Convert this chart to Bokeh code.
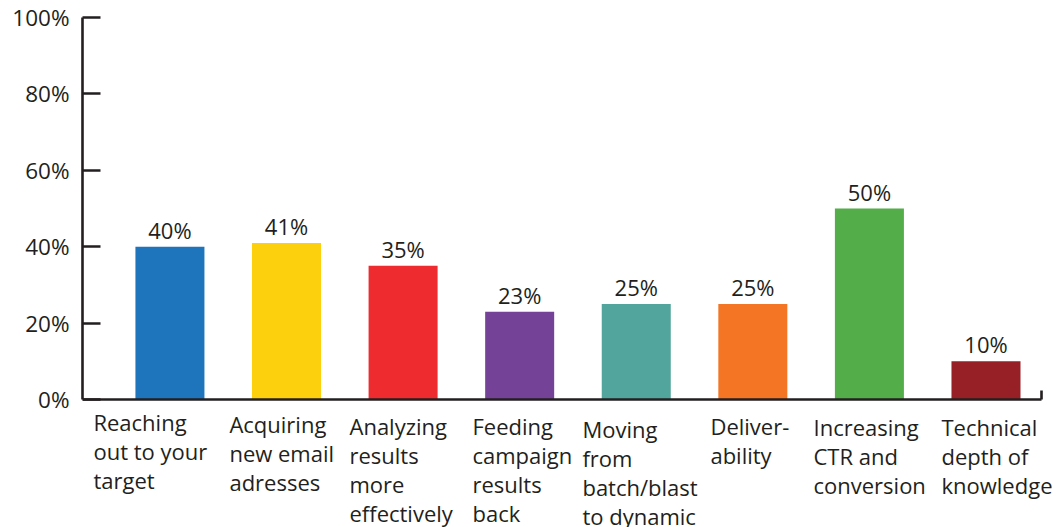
from bokeh.plotting import figure
from bokeh.models import ColumnDataSource, LabelSet, Range1d, FixedTicker, PrintfTickFormatter, LinearAxis
from bokeh.core.properties import value
from bokeh.embed import file_html
from bokeh.resources import INLINE

# ---- data ----
categories = [
    "Reaching\nout to your\ntarget",
    "Acquiring\nnew email\nadresses",
    "Analyzing\nresults\nmore\neffectively",
    "Feeding\ncampaign\nresults\nback",
    "Moving\nfrom\nbatch/blast\nto dynamic",
    "Deliver-\nability",
    "Increasing\nCTR and\nconversion",
    "Technical\ndepth of\nknowledge",
]
values = [40, 41, 35, 23, 25, 25, 50, 10]
colors = ["#1f75bc", "#fcd00d", "#ee2b2e", "#744398", "#52a59d", "#f47625", "#53ad48", "#962025"]
y_ticks = [0, 20, 40, 60, 80, 100]

# ---- layout / style (pixel offsets of the category captions from bar centre / baseline) ----
label_dx = [-76.5, -57.1, -53.6, -47.2, -53.8, -42.4, -55.9, -44.5]
label_dy = [-7, -9, -11, -11, -14, -11, -12, -12]
FONT = value("Open Sans")
INK = "#231f20"
n = len(values)
x = list(range(n))
x_start, x_axis_end, x_end = -0.75, n - 1 + 0.476, n - 1 + 0.622
y_start = -33.5  # room below the baseline for the category labels

src = ColumnDataSource(dict(
    x=x, top=values, color=colors,
    vlabel=[f"{v}%" for v in values],
    cat=categories, dx=label_dx, dy=label_dy, zero=[0] * n,
))

p = figure(width=1058, height=527, output_backend="svg", toolbar_location=None,
           x_range=Range1d(x_start, x_end), y_range=Range1d(y_start, 100),
           x_axis_location=None,
           min_border_left=82, min_border_right=0, min_border_top=17, min_border_bottom=0)
p.outline_line_color = None
p.xgrid.visible = False
p.ygrid.visible = False

p.vbar(x="x", top="top", bottom=0, width=0.592, color="color", line_color=None, source=src)

yax = p.yaxis[0]
yax.bounds = (0, 100)
yax.ticker = FixedTicker(ticks=y_ticks)
yax.formatter = PrintfTickFormatter(format="%d%%")
yax.axis_line_color = INK
yax.axis_line_width = 2.6
yax.major_tick_line_color = INK
yax.major_tick_line_width = 2.6
yax.major_tick_in = 18
yax.major_tick_out = 0
yax.minor_tick_line_color = None
yax.major_label_text_font = "Open Sans"
yax.major_label_text_font_size = "22.5px"
yax.major_label_text_color = INK
yax.major_label_standoff = 13

xax = LinearAxis(fixed_location=0, ticker=FixedTicker(ticks=[x_axis_end]),
                 bounds=(x_start, x_axis_end))
xax.axis_line_color = INK
xax.axis_line_width = 2.6
xax.major_tick_line_color = INK
xax.major_tick_line_width = 2.6
xax.major_tick_in = 9
xax.major_tick_out = 0
xax.minor_tick_line_color = None
xax.major_label_text_font_size = "0px"
xax.major_label_standoff = 0
xax.major_label_text_color = None
p.add_layout(xax, "below")

vals = LabelSet(x="x", y="top", text="vlabel", source=src, y_offset=8,
                text_align="center", text_baseline="alphabetic",
                text_font=FONT, text_font_size="22px", text_color=INK)
p.add_layout(vals)

cats = LabelSet(x="x", y="zero", text="cat", source=src, x_offset="dx", y_offset="dy",
                text_align="left", text_baseline="top", text_line_height=0.97,
                text_font=FONT, text_font_size="22px", text_color=INK)
p.add_layout(cats)

open("out.html", "w").write(file_html(p, INLINE))
